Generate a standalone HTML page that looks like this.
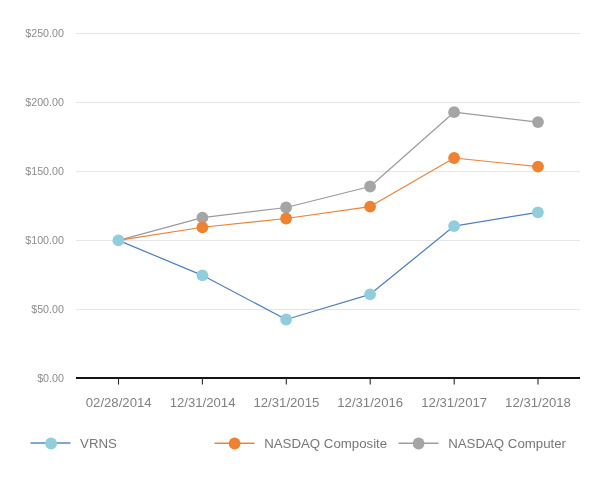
<!DOCTYPE html>
<html>
<head>
<meta charset="utf-8">
<title>Stock Performance</title>
<style>
html,body{margin:0;padding:0;background:#fff;}
body{width:613px;height:480px;overflow:hidden;font-family:"Liberation Sans",sans-serif;}
svg{display:block;will-change:transform;}
text{font-family:"Liberation Sans",sans-serif;}
</style>
</head>
<body>
<svg width="613" height="480" viewBox="0 0 613 480">
<rect width="613" height="480" fill="#ffffff"/>
<!-- gridlines -->
<g stroke="#e6e6e6" stroke-width="1" shape-rendering="crispEdges">
<line x1="76" x2="580" y1="33.5" y2="33.5"/>
<line x1="76" x2="580" y1="102.5" y2="102.5"/>
<line x1="76" x2="580" y1="171.5" y2="171.5"/>
<line x1="76" x2="580" y1="240.5" y2="240.5"/>
<line x1="76" x2="580" y1="309.5" y2="309.5"/>
</g>
<!-- y labels -->
<g font-size="10.7" fill="#8c8c8c" text-anchor="end">
<text x="63.9" y="36.9">$250.00</text>
<text x="63.9" y="105.9">$200.00</text>
<text x="63.9" y="174.9">$150.00</text>
<text x="63.9" y="243.9">$100.00</text>
<text x="63.9" y="312.9">$50.00</text>
<text x="63.9" y="381.9">$0.00</text>
</g>
<!-- series -->
<g fill="none" stroke-linejoin="round">
<polyline stroke="#9b9b9b" stroke-width="1.2" points="118.4,240.4 202.4,217.7 286.1,207.5 370.1,186.5 454.1,112.2 538.0,122.1"/>
<polyline stroke="#e8843c" stroke-width="1.15" points="118.4,240.4 202.4,227.3 286.1,218.5 370.1,206.6 454.1,158.0 538.0,166.6"/>
<polyline stroke="#4f80bd" stroke-width="1.25" points="118.4,240.4 202.4,275.3 286.1,319.5 370.1,294.3 454.1,226.1 537.9,212.3"/>
</g>
<g fill="#a5a5a5">
<circle cx="202.4" cy="217.7" r="5.9"/><circle cx="286.1" cy="207.5" r="5.9"/><circle cx="370.1" cy="186.5" r="5.9"/><circle cx="454.1" cy="112.2" r="5.9"/><circle cx="538.0" cy="122.1" r="5.9"/>
</g>
<g fill="#ee8230">
<circle cx="202.4" cy="227.3" r="5.9"/><circle cx="286.1" cy="218.5" r="5.9"/><circle cx="370.1" cy="206.6" r="5.9"/><circle cx="454.1" cy="158.0" r="5.9"/><circle cx="538.0" cy="166.6" r="5.9"/>
</g>
<g fill="#92cddc">
<circle cx="118.4" cy="240.4" r="5.9"/><circle cx="202.4" cy="275.3" r="5.9"/><circle cx="286.1" cy="319.5" r="5.9"/><circle cx="370.1" cy="294.3" r="5.9"/><circle cx="454.1" cy="226.1" r="5.9"/><circle cx="537.9" cy="212.3" r="5.9"/>
</g>
<!-- x axis -->
<line x1="76" x2="580" y1="378" y2="378" stroke="#151515" stroke-width="2" shape-rendering="crispEdges"/>
<g stroke="#2a2a2a" stroke-width="1.1">
<line x1="118.5" x2="118.5" y1="378" y2="384.6"/>
<line x1="202.4" x2="202.4" y1="378" y2="384.6"/>
<line x1="286.3" x2="286.3" y1="378" y2="384.6"/>
<line x1="370.2" x2="370.2" y1="378" y2="384.6"/>
<line x1="454.2" x2="454.2" y1="378" y2="384.6"/>
<line x1="538" x2="538" y1="378" y2="384.6"/>
</g>
<g font-size="13.15" fill="#808080" text-anchor="middle">
<text x="118.7" y="406.9">02/28/2014</text>
<text x="202.6" y="406.9">12/31/2014</text>
<text x="286.4" y="406.9">12/31/2015</text>
<text x="370.2" y="406.9">12/31/2016</text>
<text x="454.2" y="406.9">12/31/2017</text>
<text x="538" y="406.9">12/31/2018</text>
</g>
<!-- legend -->
<g stroke-width="1.5">
<line x1="30.5" x2="70.5" y1="443.1" y2="443.1" stroke="#5789c4"/>
<line x1="214.5" x2="254.5" y1="443.2" y2="443.2" stroke="#ea8538"/>
<line x1="398.5" x2="438.5" y1="443.2" y2="443.2" stroke="#9e9e9e"/>
</g>
<circle cx="51.1" cy="443.5" r="5.9" fill="#92cddc"/>
<circle cx="234.6" cy="443.5" r="5.9" fill="#ee8230"/>
<circle cx="418.6" cy="443.5" r="5.9" fill="#a5a5a5"/>
<g font-size="13.25" fill="#777777">
<text x="80.1" y="447.9">VRNS</text>
<text x="264.2" y="447.9">NASDAQ Composite</text>
<text x="448.2" y="447.9">NASDAQ Computer</text>
</g>
</svg>
</body>
</html>
